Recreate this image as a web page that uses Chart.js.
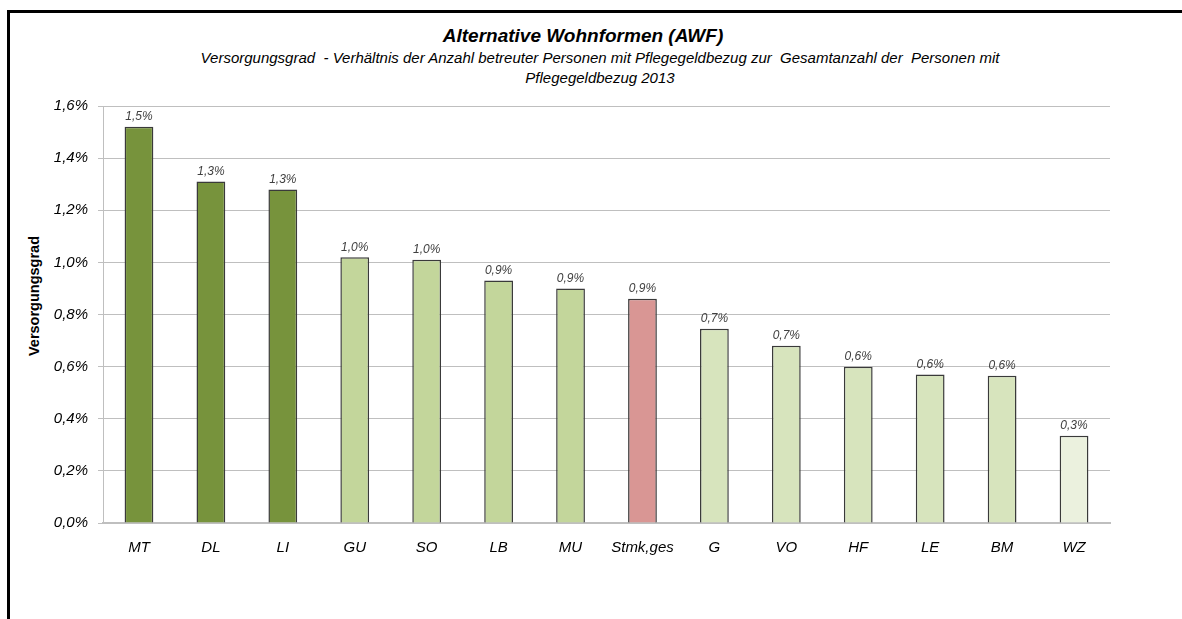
<!DOCTYPE html>
<html>
<head>
<meta charset="utf-8">
<script src="https://cdn.jsdelivr.net/npm/chart.js@4/dist/chart.umd.min.js"></script>
<style>
  html, body { margin: 0; padding: 0; background: #fff; overflow: hidden; }
  #wrap { position: relative; width: 1182px; height: 619px; }
  #frame {
    position: absolute; left: 7px; top: 10px; width: 1300px; height: 700px;
    border-top: 3px solid #000; border-left: 3px solid #000;
  }
  .title, .sub {
    position: absolute; white-space: nowrap; font-style: italic;
    font-family: "Liberation Sans", Arial, sans-serif; color: #000;
    transform: translateX(-50%);
  }
  .title { left: 583px; top: 25px; font-size: 19px; font-weight: bold; }
  .sub { left: 600px; font-size: 15px; }
  .ytitle {
    position: absolute; left: 34px; top: 296px; white-space: nowrap;
    font-family: "Liberation Sans", Arial, sans-serif; font-weight: bold; font-size: 14.5px;
    transform: translate(-50%, -50%) rotate(-90deg);
  }
  canvas { position: absolute; left: 0; top: 0; }
</style>
</head>
<body>
<div id="wrap">
  <div id="frame"></div>
  <div class="title">Alternative Wohnformen (AWF)</div>
  <div class="sub" style="top: 49px;">Versorgungsgrad&nbsp; - Verhältnis der Anzahl betreuter Personen mit Pflegegeldbezug zur&nbsp; Gesamtanzahl der&nbsp; Personen mit</div>
  <div class="sub" style="top: 69px;">Pflegegeldbezug 2013</div>
  <div class="ytitle">Versorgungsgrad</div>
  <canvas id="awfChart" width="1182" height="619"></canvas>
</div>
<script>
// regions (Bezirke) and their Versorgungsgrad in percent
const regions = ['MT', 'DL', 'LI', 'GU', 'SO', 'LB', 'MU', 'Stmk,ges', 'G', 'VO', 'HF', 'LE', 'BM', 'WZ'];
const versorgungsgrad = [1.52, 1.31, 1.28, 1.02, 1.01, 0.93, 0.90, 0.86, 0.745, 0.68, 0.60, 0.57, 0.565, 0.335];
const barColors = ['#77933c', '#77933c', '#77933c', '#c3d69b', '#c3d69b', '#c3d69b', '#c3d69b',
                   '#d99694', '#d7e4bd', '#d7e4bd', '#d7e4bd', '#d7e4bd', '#d7e4bd', '#ebf1de'];
const yTicks = [0, 0.2, 0.4, 0.6, 0.8, 1.0, 1.2, 1.4, 1.6];

const fontFamily = '"Liberation Sans", Arial, sans-serif';

function pct(v) {
    return v.toFixed(1).replace('.', ',') + '%';
}

// draws the value above each bar
const valueLabels = {
    id: 'valueLabels',
    afterDatasetsDraw(chart) {
        const ctx = chart.ctx;
        const meta = chart.getDatasetMeta(0);
        ctx.save();
        ctx.font = 'italic 12px ' + fontFamily;
        ctx.fillStyle = '#404040';
        ctx.textAlign = 'center';
        ctx.textBaseline = 'bottom';
        meta.data.forEach((bar, i) => {
            ctx.fillText(pct(chart.data.datasets[0].data[i]), bar.x, bar.y - 4);
        });
        ctx.restore();
    }
};

const ctx = document.getElementById('awfChart').getContext('2d');
new Chart(ctx, {
    type: 'bar',
    data: {
        labels: regions,
        datasets: [{
            data: versorgungsgrad,
            backgroundColor: barColors,
            borderColor: '#3a3a3a',
            borderWidth: 1.5,
            categoryPercentage: 1,
            barPercentage: 0.4
        }]
    },
    options: {
        responsive: false,
        animation: false,
        layout: {
            padding: { left: 25, right: 72, top: 106, bottom: 0 }
        },
        plugins: {
            legend: { display: false },
            tooltip: { enabled: false }
        },
        scales: {
            x: {
                grid: { display: false },
                border: { color: '#bfbfbf', width: 2 },
                ticks: {
                    padding: 8,
                    color: '#000',
                    maxRotation: 0,
                    font: { family: fontFamily, size: 15, style: 'italic' }
                },
                afterFit(scale) { scale.height = 96; }
            },
            y: {
                min: 0,
                max: 1.6,
                afterBuildTicks(scale) {
                    scale.ticks = yTicks.map(v => ({ value: v }));
                },
                grid: { color: '#bfbfbf', tickLength: 5, drawTicks: true },
                border: { color: '#bfbfbf' },
                ticks: {
                    padding: 10,
                    color: '#000',
                    callback: v => pct(v),
                    font: { family: fontFamily, size: 15, style: 'italic' }
                },
                afterFit(scale) { scale.width = 78; }
            }
        }
    },
    plugins: [valueLabels]
});
</script>
</body>
</html>
